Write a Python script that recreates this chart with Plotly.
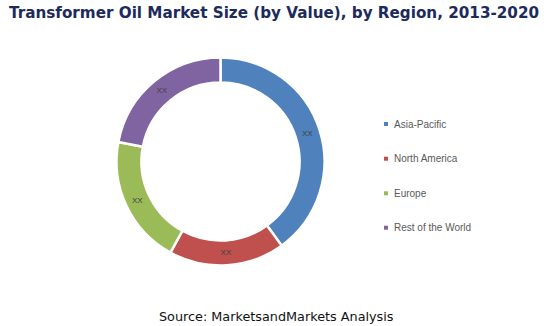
import plotly.graph_objects as go

regions = ["Asia-Pacific", "North America", "Europe", "Rest of the World"]
shares = [40, 18, 20, 22]
slice_labels = ["XX", "XX", "XX", "XX"]
colors = ["#4F81BD", "#C0504D", "#9BBB59", "#8064A2"]

W, H = 550, 326

fig = go.Figure()
fig.add_trace(go.Pie(
    labels=regions,
    values=shares,
    text=slice_labels,
    textinfo="text",
    textposition="inside",
    insidetextorientation="horizontal",
    textfont=dict(family="Liberation Sans", size=8, color="#404040"),
    hole=0.76,
    sort=False,
    direction="clockwise",
    rotation=0,
    marker=dict(colors=colors, line=dict(color="white", width=2.5)),
    domain=dict(x=[116.5 / W, 324.5 / W], y=[1 - 265.5 / H, 1 - 57.5 / H]),
    showlegend=False,
    hoverinfo="label+percent",
))

# Legend drawn alongside (squares + labels), from the category lists
legend_y = [124, 158.7, 193.3, 227.7]
for name, col, yy in zip(regions, colors, legend_y):
    fig.add_shape(type="rect", xref="paper", yref="paper",
                  x0=384 / W, x1=388 / W, y0=1 - (yy + 2) / H, y1=1 - (yy - 2) / H,
                  fillcolor=col, line=dict(width=0))
    fig.add_annotation(x=392 / W, y=1 - yy / H, xref="paper", yref="paper",
                       text=name, showarrow=False, xanchor="left", yanchor="middle",
                       font=dict(family="Liberation Sans", size=10, color="#595959"))

fig.add_annotation(x=274 / W, y=1 - 13 / H, xref="paper", yref="paper",
                   text="<b>Transformer Oil Market Size (by Value), by Region, 2013-2020</b>",
                   showarrow=False, xanchor="center", yanchor="middle",
                   font=dict(family="DejaVu Sans", size=15.2, color="#1C2A5C"))

fig.add_annotation(x=276 / W, y=1 - 316 / H, xref="paper", yref="paper",
                   text="Source: MarketsandMarkets Analysis",
                   showarrow=False, xanchor="center", yanchor="middle",
                   font=dict(family="DejaVu Sans", size=12.8, color="#111111"))

fig.update_layout(
    width=W, height=H,
    margin=dict(l=0, r=0, t=0, b=0),
    paper_bgcolor="white",
    plot_bgcolor="white",
)

fig.write_html("out.html")
